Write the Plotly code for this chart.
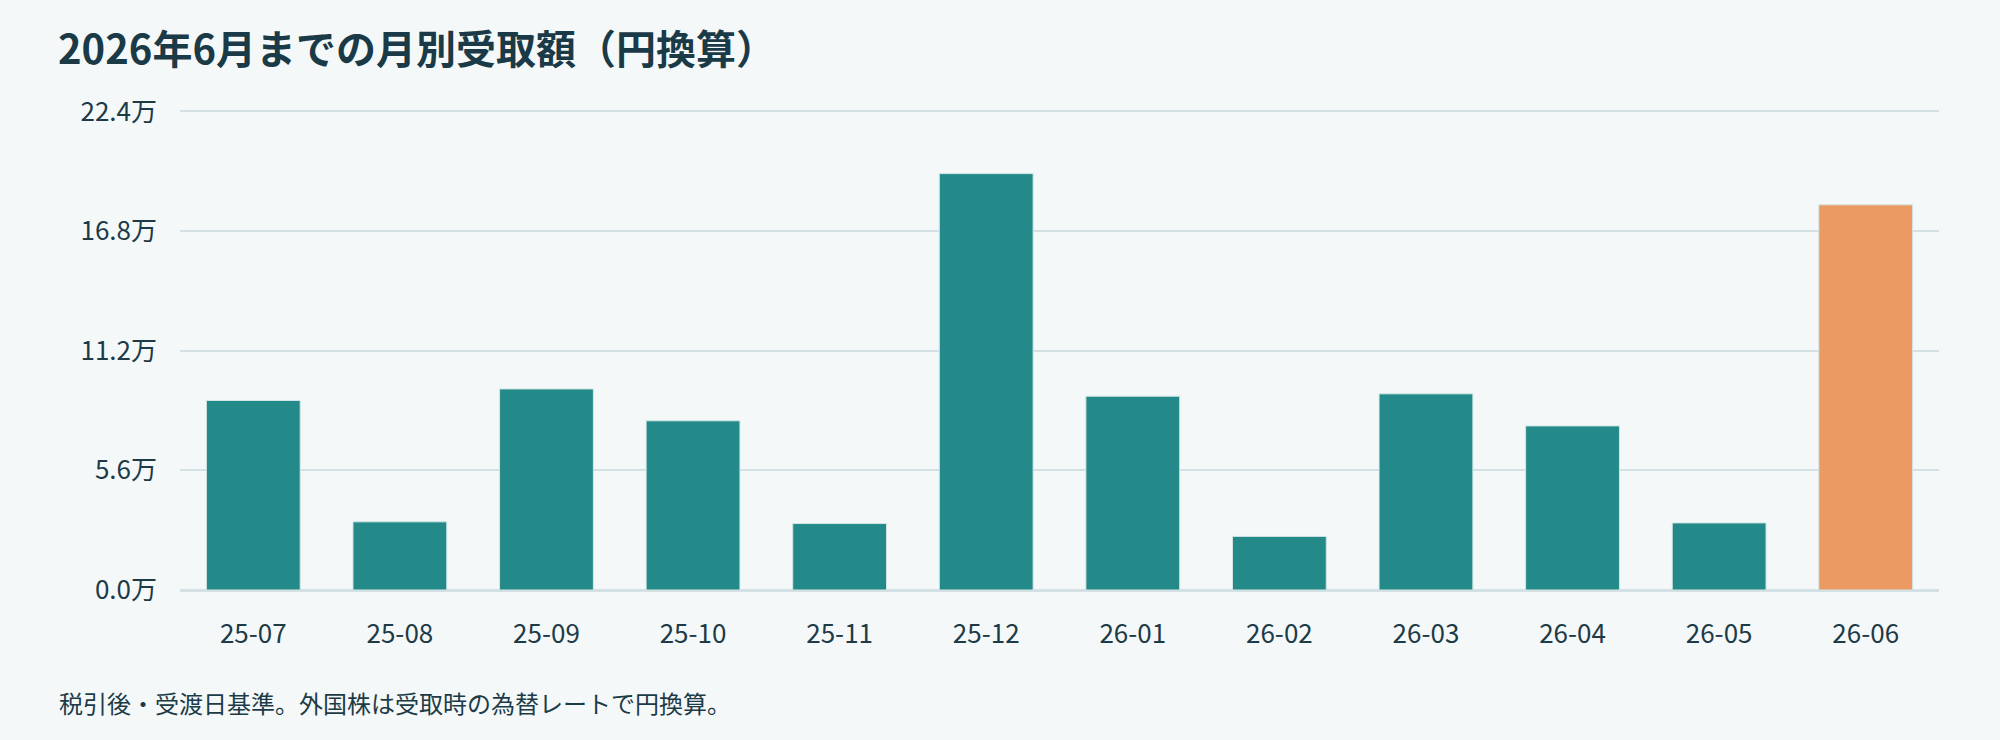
import plotly.graph_objects as go

# 月別受取額（円）
months = ["25-07", "25-08", "25-09", "25-10", "25-11", "25-12",
          "26-01", "26-02", "26-03", "26-04", "26-05", "26-06"]
amounts = [88700, 31900, 94100, 79200, 31100, 194900,
           90700, 25100, 91800, 76800, 31400, 180300]
# 最後の月（予定）だけ色を変える
is_current = [False] * 11 + [True]

y_ticks = [0, 56000, 112000, 168000, 224000]
y_tick_labels = ["0.0万", "5.6万", "11.2万", "16.8万", "22.4万"]

TEAL = "#238a89"
ORANGE = "#ec9a63"
TEXT = "#1d3b47"
GRID = "#d4e1e4"
BG = "#f4f8f9"
FONT = "Noto Sans CJK JP"

colors = [ORANGE if c else TEAL for c in is_current]

fig = go.Figure(go.Bar(
    x=months, y=amounts,
    marker=dict(color=colors, line=dict(color="#d2e6e5", width=1)),
    hoverinfo="x+y",
))

fig.update_layout(
    width=2000, height=740,
    paper_bgcolor=BG, plot_bgcolor=BG,
    margin=dict(l=180, r=61, t=110, b=150),
    bargap=0.36,
    showlegend=False,
    font=dict(family=FONT, color=TEXT, size=26),
    title=dict(
        text="<b>2026年6月までの月別受取額（円換算）</b>",
        font=dict(family=FONT, size=40, color="#1b3a47"),
        xref="container", yref="container",
        x=0.029, xanchor="left", y=0.932, yanchor="middle",
    ),
    annotations=[dict(
        text="税引後・受渡日基準。外国株は受取時の為替レートで円換算。",
        xref="paper", yref="paper", x=-0.070, y=-0.235,
        xanchor="left", yanchor="middle", showarrow=False,
        font=dict(family=FONT, size=24, color=TEXT),
    )],
)

fig.update_xaxes(
    type="category",
    showgrid=False, showline=True, linecolor=GRID, linewidth=1.5,
    ticks="", ticklabelstandoff=20,
    tickfont=dict(family=FONT, size=26, color=TEXT),
)
fig.update_yaxes(
    range=[0, 224000 * 1.003], tickvals=y_ticks, ticktext=y_tick_labels,
    showgrid=True, gridcolor=GRID, gridwidth=1.5,
    zeroline=True, zerolinecolor=GRID, zerolinewidth=1.5,
    ticks="", ticklabelstandoff=22,
    tickfont=dict(family=FONT, size=26, color=TEXT),
)

fig.write_html("out.html", config={"displayModeBar": False},
               post_script="document.body.style.margin='0';")
